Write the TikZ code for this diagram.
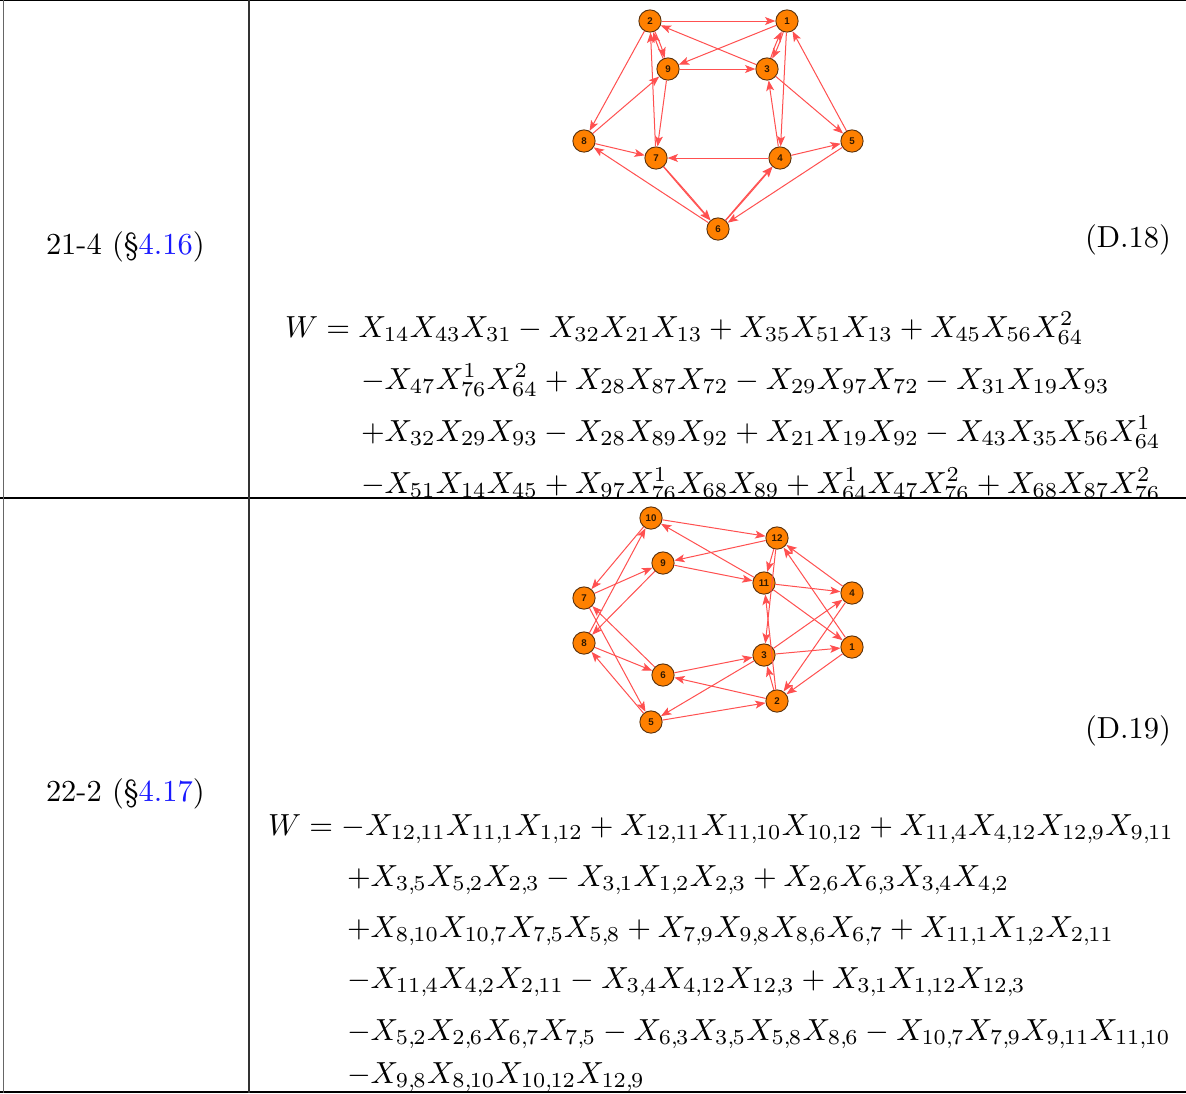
\documentclass[tikz,border=0pt]{standalone}
\usepackage{fontspec}
\newfontfamily\lblfont{Liberation Sans}
\usetikzlibrary{arrows.meta}
\definecolor{nodeor}{RGB}{255,128,0}
\definecolor{nodebd}{RGB}{90,50,15}
\definecolor{nodetx}{RGB}{50,25,0}
\definecolor{edgered}{RGB}{255,80,80}
\definecolor{linkblue}{RGB}{25,25,255}
\newcommand\cmma{,\mkern-1.4mu}
\begin{document}
\begin{tikzpicture}[x=0.328pt,y=-0.328pt,
  qn/.style={circle,draw=nodebd,line width=0.3pt,fill=nodeor,minimum size=7.3pt,inner sep=0pt,
    font=\lblfont\bfseries\fontsize{3.2pt}{3.6pt}\selectfont,text=nodetx},
  e/.style={draw=edgered,line width=0.33pt,-{Stealth[length=3.4pt,width=2.6pt,inset=0.8pt]}},
  tabrule/.style={line width=0.42pt},
  eq/.style={anchor=base west,inner sep=0pt,outer sep=0pt},
]
\useasboundingbox (0,0) rectangle (1186,1093);

% ---------- row 1 ----------
\node[eq] (lab1) at (46,254) {21-4 (\S\textcolor{linkblue}{4.16})};
\node[eq] (num1) at (1085,247) {(D.18)};

\begin{scope}
\clip (250,0) rectangle (1186,497.5);
\node[eq] (r1l1) at (285,337) {$W = X_{14}X_{43}X_{31} - X_{32}X_{21}X_{13} + X_{35}X_{51}X_{13} + X_{45}X_{56}X_{64}^{2}$};
\node[eq] (r1l2) at (361,389) {$-X_{47}X_{76}^{1}X_{64}^{2} + X_{28}X_{87}X_{72} - X_{29}X_{97}X_{72} - X_{31}X_{19}X_{93}$};
\node[eq] (r1l3) at (361,441) {$+X_{32}X_{29}X_{93} - X_{28}X_{89}X_{92} + X_{21}X_{19}X_{92} - X_{43}X_{35}X_{56}X_{64}^{1}$};
\node[eq] (r1l4) at (361,493) {$-X_{51}X_{14}X_{45} + X_{97}X_{76}^{1}X_{68}X_{89} + X_{64}^{1}X_{47}X_{76}^{2} + X_{68}X_{87}X_{76}^{2}$};
\end{scope}

% quiver 1
\node[qn] (a2) at (650,21) {2};
\node[qn] (a1) at (787,21) {1};
\node[qn] (a9) at (668,69) {9};
\node[qn] (a3) at (767,69) {3};
\node[qn] (a8) at (584,141) {8};
\node[qn] (a7) at (656,158) {7};
\node[qn] (a4) at (780,158) {4};
\node[qn] (a5) at (852,141) {5};
\node[qn] (a6) at (718,229) {6};

\draw[e] (a1) -- (a4);
\draw[e] (a4) -- (a3);
\draw[e] (a3) to[bend left=4] (a1);
\draw[e] (a1) to[bend left=4] (a3);
\draw[e] (a3) -- (a2);
\draw[e] (a2) -- (a1);
\draw[e] (a3) -- (a5);
\draw[e] (a5) -- (a1);
\draw[e] (a4) -- (a5);
\draw[e] (a5) -- (a6);
\draw[e] (a6) to[bend left=0.8] (a4);
\draw[e] (a6) to[bend right=0.8] (a4);
\draw[e] (a4) -- (a7);
\draw[e] (a7) to[bend left=0.8] (a6);
\draw[e] (a7) to[bend right=0.8] (a6);
\draw[e] (a2) -- (a8);
\draw[e] (a8) -- (a7);
\draw[e] (a7) -- (a2);
\draw[e] (a2) to[bend left=4] (a9);
\draw[e] (a9) to[bend left=4] (a2);
\draw[e] (a9) -- (a7);
\draw[e] (a1) -- (a9);
\draw[e] (a9) -- (a3);
\draw[e] (a8) -- (a9);
\draw[e] (a6) -- (a8);

% ---------- row 2 ----------
\node[eq] (lab2) at (46,801) {22-2 (\S\textcolor{linkblue}{4.17})};
\node[eq] (num2) at (1085,738) {(D.19)};

\node[eq] (r2l1) at (268,835) {$W = -X_{12\cmma 11}X_{11\cmma 1}X_{1\cmma 12} + X_{12\cmma 11}X_{11\cmma 10}X_{10\cmma 12} + X_{11\cmma 4}X_{4\cmma 12}X_{12\cmma 9}X_{9\cmma 11}$};
\node[eq] (r2l2) at (347,886) {$+X_{3\cmma 5}X_{5\cmma 2}X_{2\cmma 3} - X_{3\cmma 1}X_{1\cmma 2}X_{2\cmma 3} + X_{2\cmma 6}X_{6\cmma 3}X_{3\cmma 4}X_{4\cmma 2}$};
\node[eq] (r2l3) at (347,937) {$+X_{8\cmma 10}X_{10\cmma 7}X_{7\cmma 5}X_{5\cmma 8} + X_{7\cmma 9}X_{9\cmma 8}X_{8\cmma 6}X_{6\cmma 7} + X_{11\cmma 1}X_{1\cmma 2}X_{2\cmma 11}$};
\node[eq] (r2l4) at (347,988) {$-X_{11\cmma 4}X_{4\cmma 2}X_{2\cmma 11} - X_{3\cmma 4}X_{4\cmma 12}X_{12\cmma 3} + X_{3\cmma 1}X_{1\cmma 12}X_{12\cmma 3}$};
\node[eq] (r2l5) at (347,1040) {$-X_{5\cmma 2}X_{2\cmma 6}X_{6\cmma 7}X_{7\cmma 5} - X_{6\cmma 3}X_{3\cmma 5}X_{5\cmma 8}X_{8\cmma 6} - X_{10\cmma 7}X_{7\cmma 9}X_{9\cmma 11}X_{11\cmma 10}$};
\node[eq] (r2l6) at (347,1083) {$-X_{9\cmma 8}X_{8\cmma 10}X_{10\cmma 12}X_{12\cmma 9}$};

% quiver 2
\node[qn] (b10) at (651,518) {10};
\node[qn] (b12) at (777,538) {12};
\node[qn] (b9) at (663,563) {9};
\node[qn] (b11) at (764,583) {11};
\node[qn] (b4) at (852,593) {4};
\node[qn] (b7) at (584,598) {7};
\node[qn] (b8) at (584,643) {8};
\node[qn] (b1) at (852,647) {1};
\node[qn] (b3) at (764,655) {3};
\node[qn] (b6) at (663,675) {6};
\node[qn] (b2) at (777,701) {2};
\node[qn] (b5) at (651,722) {5};

\draw[e] (b12) -- (b11);
\draw[e] (b11) -- (b1);
\draw[e] (b1) -- (b12);
\draw[e] (b11) -- (b10);
\draw[e] (b10) -- (b12);
\draw[e] (b11) -- (b4);
\draw[e] (b4) -- (b12);
\draw[e] (b12) -- (b9);
\draw[e] (b9) -- (b11);
\draw[e] (b3) -- (b5);
\draw[e] (b5) -- (b2);
\draw[e] (b2) -- (b3);
\draw[e] (b3) -- (b1);
\draw[e] (b1) -- (b2);
\draw[e] (b2) -- (b6);
\draw[e] (b6) -- (b3);
\draw[e] (b3) -- (b4);
\draw[e] (b4) -- (b2);
\draw[e] (b8) -- (b10);
\draw[e] (b10) -- (b7);
\draw[e] (b7) -- (b5);
\draw[e] (b5) -- (b8);
\draw[e] (b7) -- (b9);
\draw[e] (b9) -- (b8);
\draw[e] (b8) -- (b6);
\draw[e] (b6) -- (b7);
\draw[e] (b2) -- (b11);
\draw[e] (b12) -- (b3);

% ---------- table rules ----------
\coordinate (tl) at (0,0.7);
\coordinate (tr) at (1186,0.7);
\coordinate (ml) at (0,498);
\coordinate (mr) at (1186,498);
\coordinate (bl) at (0,1092);
\coordinate (br) at (1186,1092);
\coordinate (lt) at (3.7,0);
\coordinate (lb) at (3.7,1093);
\coordinate (st) at (249,0);
\coordinate (sb) at (249,1093);
\draw[tabrule] (tl) -- (tr);
\draw[tabrule] (ml) -- (mr);
\draw[tabrule] (bl) -- (br);
\draw[tabrule,black!60] (lt) -- (lb);
\draw[tabrule,black!80] (st) -- (sb);
\end{tikzpicture}
\end{document}
